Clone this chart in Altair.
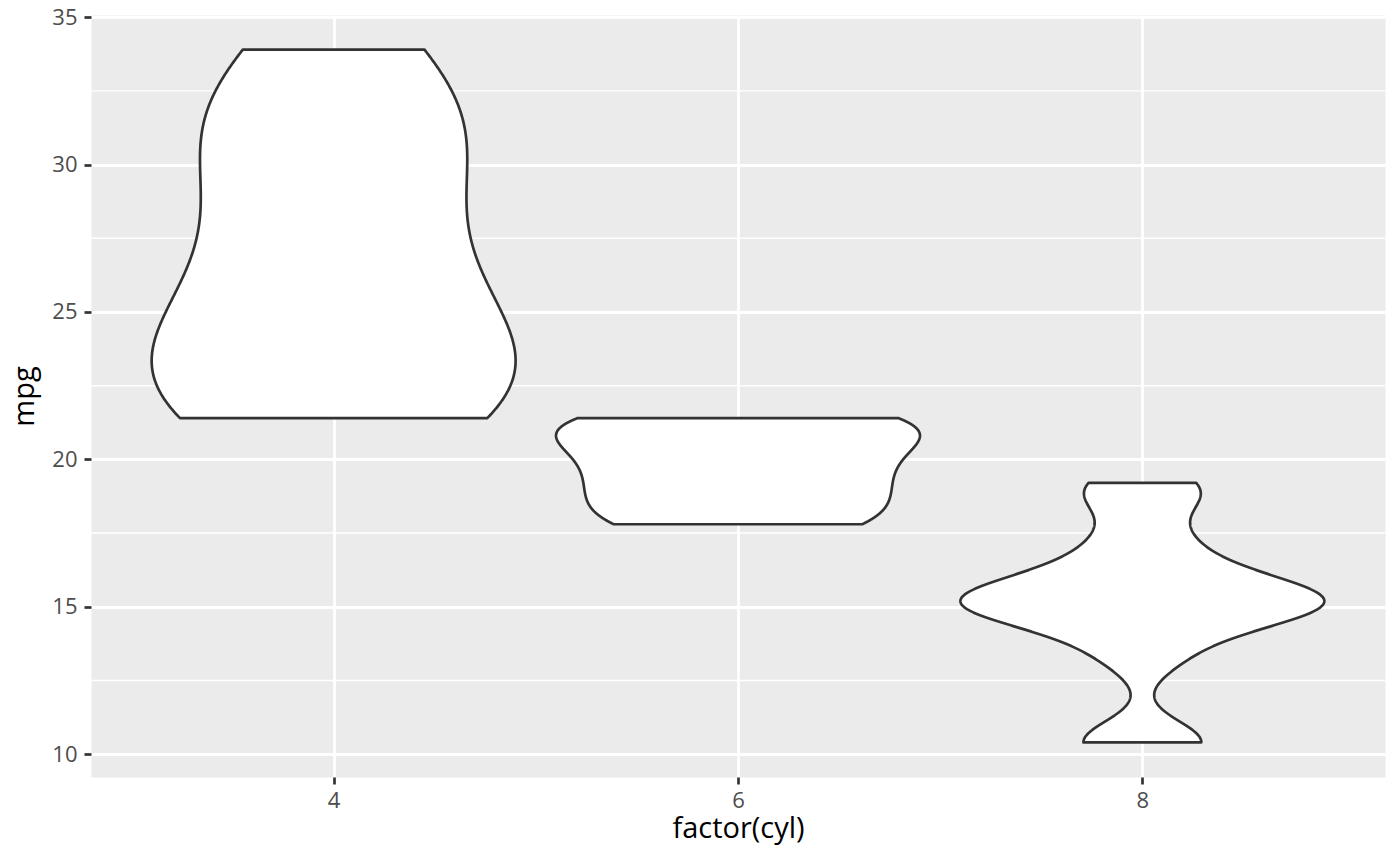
import altair as alt
import pandas as pd
import numpy as np

# ---- data (mtcars: mpg by number of cylinders) ----
cyl_levels = ["4", "6", "8"]
mpg_4 = [22.8, 24.4, 22.8, 32.4, 30.4, 33.9, 21.5, 27.3, 26.0, 30.4, 21.4]
mpg_6 = [21.0, 21.0, 21.4, 18.1, 19.2, 17.8, 19.7]
mpg_8 = [18.7, 14.3, 16.4, 17.3, 15.2, 10.4, 10.4, 14.7, 15.5, 15.2, 13.3, 19.2, 15.8, 15.0]
y_ticks = [10, 15, 20, 25, 30, 35]
y_minor = [12.5, 17.5, 22.5, 27.5, 32.5]

groups = [mpg_4, mpg_6, mpg_8]
rows = []
for i, (lvl, vals) in enumerate(zip(cyl_levels, groups)):
    for v in vals:
        rows.append({"cyl": lvl, "pos": i + 1, "mpg": v})
df = pd.DataFrame(rows)
minor_df = pd.DataFrame({"y": y_minor})


def bw_nrd0(v):
    v = np.asarray(v, dtype=float)
    n = len(v)
    sd = v.std(ddof=1)
    q75, q25 = np.percentile(v, [75, 25])
    h = min(sd, (q75 - q25) / 1.34)
    return 0.9 * h * n ** -0.2


all_vals = mpg_4 + mpg_6 + mpg_8
lo_all, hi_all = min(all_vals), max(all_vals)
rng = hi_all - lo_all
y_domain = [lo_all - 0.05 * rng, hi_all + 0.05 * rng]
x_domain = [0.4, len(cyl_levels) + 0.6]

FONT = "Open Sans"
label_expr = "[" + ",".join(f"'{c}'" for c in cyl_levels) + "][datum.value - 1]"

x_scale = alt.Scale(domain=x_domain, nice=False, zero=False)
y_scale = alt.Scale(domain=y_domain, nice=False, zero=False)

x_axis = alt.Axis(
    values=list(range(1, len(cyl_levels) + 1)), labelExpr=label_expr,
    title="factor(cyl)", grid=True, gridColor="white", gridWidth=2.8,
    domain=False, ticks=True, tickColor="#333333", tickWidth=2.7, tickSize=7,
    labelColor="#4D4D4D", labelFontSize=22, labelFont=FONT, labelPadding=6,
    labelBaseline="top",
    titleFont=FONT, titleFontSize=29, titleFontWeight="normal", titleColor="black",
    titleX=647, titleY=60, titleBaseline="alphabetic", titleAlign="center",
)
y_axis = alt.Axis(
    values=y_ticks, title="mpg", grid=True, gridColor="white", gridWidth=2.8,
    domain=False, ticks=True, tickColor="#333333", tickWidth=2.7, tickSize=7,
    labelColor="#4D4D4D", labelFontSize=22, labelFont=FONT, labelPadding=7,
    labelBaseline="middle",
    titleFont=FONT, titleFontSize=29, titleFontWeight="normal", titleColor="black",
    titleAngle=270, titleX=-58, titleY=381, titleBaseline="alphabetic", titleAlign="center",
)

minor = alt.Chart(minor_df).mark_rule(color="white", strokeWidth=1.4).encode(
    y=alt.Y("y:Q", scale=y_scale, axis=y_axis)
)

layers = [minor]
for i, (lvl, vals) in enumerate(zip(cyl_levels, groups)):
    pos = i + 1
    bw = bw_nrd0(vals)
    layer = (
        alt.Chart(df)
        .transform_filter(alt.datum.cyl == lvl)
        .transform_density("mpg", as_=["mpg", "density"], bandwidth=bw,
                           extent=[min(vals), max(vals)], steps=512)
        .transform_joinaggregate(maxd="max(density)")
        .transform_calculate(
            lo=f"{pos} - 0.45 * datum.density / datum.maxd",
            hi=f"{pos} + 0.45 * datum.density / datum.maxd",
        )
        .mark_area(orient="horizontal", fill="white", stroke="#333333",
                   strokeWidth=2.7, strokeJoin="round", opacity=1)
        .encode(
            x=alt.X("lo:Q", scale=x_scale, axis=x_axis),
            x2="hi:Q",
            y=alt.Y("mpg:Q", scale=y_scale, axis=y_axis),
        )
    )
    layers.append(layer)

chart = (
    alt.layer(*layers)
    .properties(
        width=1294, height=762,
        padding={"left": 83, "top": 7, "right": 6, "bottom": 80},
        autosize=alt.AutoSizeParams(type="none"),
        background="white",
    )
    .configure_view(fill="#EBEBEB", stroke="transparent")
)

chart.save("out.html", embed_options={"renderer": "svg", "actions": False})
